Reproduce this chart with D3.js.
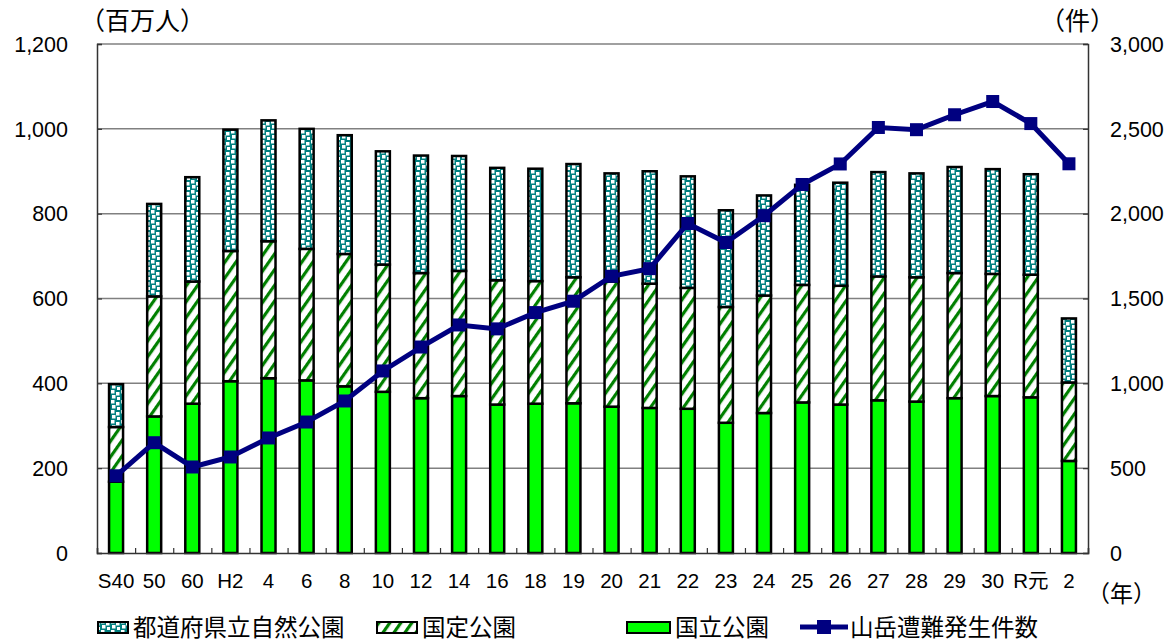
<html>

<head>
  <meta charset="utf-8">
  <title>山岳遭難と自然公園利用者数</title>
</head>
<style>
  body {
    margin: 0;
    background-color: #fff;
    font-family: 'Liberation Sans', 'Noto Sans CJK JP', sans-serif;
  }
</style>

<body>
  <div id="chart"></div>
</body>

<script src="https://cdn.jsdelivr.net/npm/d3@7"></script>
<script>
  // 年次
  const years = ["S40", "50", "60", "H2", "4", "6", "8", "10", "12", "14", "16", "18", "19",
    "20", "21", "22", "23", "24", "25", "26", "27", "28", "29", "30", "R元", "2"]
  // 国立公園 (百万人)
  const national = [168, 322, 352, 405, 412, 407, 393, 380, 365, 370, 350, 352, 353,
    345, 342, 340, 307, 330, 355, 350, 360, 357, 365, 370, 367, 217]
  // 国定公園
  const quasi = [129, 283, 288, 307, 323, 310, 312, 300, 295, 295, 293, 289, 297,
    295, 293, 285, 273, 277, 277, 280, 292, 293, 295, 288, 289, 185]
  // 都道府県立自然公園
  const prefectural = [101, 218, 246, 286, 285, 283, 280, 267, 277, 271, 265, 265, 267,
    255, 265, 263, 228, 236, 236, 243, 246, 245, 250, 247, 237, 151]
  // 山岳遭難発生件数
  const accidents = [455, 650, 507, 566, 678, 772, 896, 1073, 1214, 1344, 1321, 1417, 1484,
    1631, 1676, 1942, 1830, 1988, 2172, 2293, 2508, 2495, 2583, 2661, 2531, 2294]

  const leftTicks = [0, 200, 400, 600, 800, 1000, 1200]
  const rightTicks = [0, 500, 1000, 1500, 2000, 2500, 3000]

  const series = [
    { key: "prefectural", name: "都道府県立自然公園", fill: "url(#dots)" },
    { key: "quasi", name: "国定公園", fill: "url(#hatch)" },
    { key: "national", name: "国立公園", fill: "#00ff00" }
  ]

  const W = 1176, H = 643
  const plotL = 97, plotR = 1088, plotT = 44, plotB = 553

  const rows = years.map((y, i) => ({
    year: y, national: national[i], quasi: quasi[i], prefectural: prefectural[i]
  }))

  const svg = d3.select("#chart").append("svg")
    .attr("width", W).attr("height", H)

  // パターン
  const defs = svg.append("defs")
  const dots = defs.append("pattern").attr("id", "dots")
    .attr("patternUnits", "userSpaceOnUse").attr("width", 10).attr("height", 10)
  dots.append("rect").attr("width", 10).attr("height", 10).attr("fill", "#008080")
  const sq = [[1, 0], [6, 2], [2, 5], [7, 7]]
  dots.selectAll("rect.s").data(sq).join("rect").attr("class", "s")
    .attr("x", d => d[0]).attr("y", d => d[1])
    .attr("width", 3.5).attr("height", 3.5).attr("fill", "#fff")

  const hatch = defs.append("pattern").attr("id", "hatch")
    .attr("patternUnits", "userSpaceOnUse").attr("width", 9).attr("height", 9)
    .attr("patternTransform", "rotate(35)")
  hatch.append("rect").attr("width", 9).attr("height", 9).attr("fill", "#fff")
  hatch.append("rect").attr("width", 3.2).attr("height", 9).attr("fill", "#008000")

  const x = d3.scaleBand().domain(years).range([plotL, plotR]).padding(0)
  const yL = d3.scaleLinear().domain([0, 1200]).range([plotB, plotT])
  const yR = d3.scaleLinear().domain([0, 3000]).range([plotB, plotT])

  // グリッド
  svg.append("g").selectAll("line").data(leftTicks.slice(1)).join("line")
    .attr("x1", plotL).attr("x2", plotR)
    .attr("y1", d => yL(d)).attr("y2", d => yL(d))
    .attr("stroke", "#808080").attr("stroke-width", 1.5)

  // 積み上げ棒
  const stack = d3.stack().keys(["national", "quasi", "prefectural"])(rows)
  const bw = 14
  stack.forEach(layer => {
    const s = series.find(d => d.key == layer.key)
    svg.append("g").selectAll("rect").data(layer).join("rect")
      .attr("x", d => x(d.data.year) + x.bandwidth() / 2 - bw / 2)
      .attr("y", d => yL(d[1]))
      .attr("width", bw)
      .attr("height", d => yL(d[0]) - yL(d[1]))
      .attr("fill", s.fill)
      .attr("stroke", "#000").attr("stroke-width", 2.5)
  })

  // 軸
  const axL = svg.append("g").attr("transform", `translate(${plotL},0)`)
    .call(d3.axisRight(yL).tickValues(leftTicks).tickSize(5).tickFormat(""))
  const axR = svg.append("g").attr("transform", `translate(${plotR},0)`)
    .call(d3.axisLeft(yR).tickValues(rightTicks).tickSize(5).tickFormat(""))
  const axB = svg.append("g").attr("transform", `translate(0,${plotB})`)
    .call(d3.axisTop(d3.scaleLinear().domain([0, years.length]).range([plotL, plotR]))
      .tickValues(d3.range(years.length + 1)).tickSize(5).tickFormat(""))
  ;[axL, axR, axB].forEach(a => {
    a.select(".domain").attr("stroke", "#333").attr("stroke-width", 1.5)
    a.selectAll(".tick line").attr("stroke", "#333").attr("stroke-width", 1.2)
  })

  // 目盛ラベル
  svg.append("g").selectAll("text").data(leftTicks).join("text")
    .attr("x", 68).attr("y", d => yL(d)).attr("dy", "0.36em")
    .attr("text-anchor", "end").attr("font-size", 21.5)
    .text(d => d3.format(",")(d))
  svg.append("g").selectAll("text").data(rightTicks).join("text")
    .attr("x", 1110).attr("y", d => yR(d)).attr("dy", "0.36em")
    .attr("font-size", 21.5)
    .text(d => d3.format(",")(d))
  svg.append("g").selectAll("text").data(years).join("text")
    .attr("x", d => x(d) + x.bandwidth() / 2).attr("y", 588)
    .attr("text-anchor", "middle").attr("font-size", 20.5)
    .text(d => d)

  // 単位
  svg.append("text").attr("x", 80).attr("y", 30).attr("font-size", 25)
    .attr("font-family", "Noto Sans CJK JP").text("（百万人）")
  svg.append("text").attr("x", 1040).attr("y", 30).attr("font-size", 25)
    .attr("font-family", "Noto Sans CJK JP").text("（件）")
  svg.append("text").attr("x", 1087).attr("y", 602).attr("font-size", 23)
    .attr("font-family", "Noto Sans CJK JP").text("（年）")

  // 折れ線
  const line = d3.line()
    .x((d, i) => x(years[i]) + x.bandwidth() / 2)
    .y(d => yR(d))
  svg.append("path").datum(accidents)
    .attr("d", line).attr("fill", "none")
    .attr("stroke", "#000080").attr("stroke-width", 5)
  const ms = 13
  svg.append("g").selectAll("rect").data(accidents).join("rect")
    .attr("x", (d, i) => x(years[i]) + x.bandwidth() / 2 - ms / 2)
    .attr("y", d => yR(d) - ms / 2)
    .attr("width", ms).attr("height", ms)
    .attr("fill", "#000080")

  // 凡例
  const lg = svg.append("g").attr("font-family", "Noto Sans CJK JP").attr("font-size", 23.5)
  const legendItems = [
    { x: 98, tx: 133, s: series[0] },
    { x: 377, tx: 422, s: series[1] },
    { x: 627, tx: 675, s: series[2] }
  ]
  legendItems.forEach(d => {
    lg.append("rect").attr("x", d.x).attr("y", 622).attr("width", d.tx - d.x - 5).attr("height", 11)
      .attr("fill", d.s.fill).attr("stroke", "#000").attr("stroke-width", 2)
    lg.append("text").attr("x", d.tx).attr("y", 628).attr("dy", "0.36em").text(d.s.name)
  })
  lg.append("line").attr("x1", 800).attr("x2", 848).attr("y1", 627).attr("y2", 627)
    .attr("stroke", "#000080").attr("stroke-width", 5)
  lg.append("rect").attr("x", 817).attr("y", 620).attr("width", 14).attr("height", 14)
    .attr("fill", "#000080")
  lg.append("text").attr("x", 850).attr("y", 628).attr("dy", "0.36em").text("山岳遭難発生件数")
</script>

</html>
